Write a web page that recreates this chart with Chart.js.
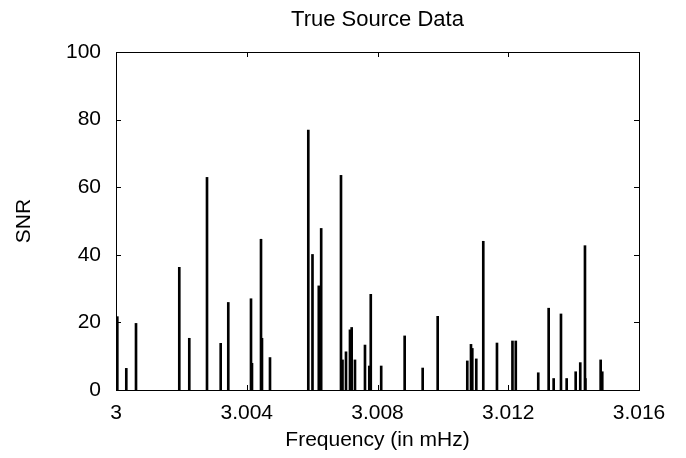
<!DOCTYPE html>
<html>
<head>
<meta charset="utf-8">
<script src="https://cdn.jsdelivr.net/npm/chart.js@4.4.1/dist/chart.umd.min.js"></script>
<style>
  html, body { margin: 0; padding: 0; background: #fff; }
  #wrap { width: 686px; height: 458px; }
</style>
</head>
<body>
<div id="wrap"><canvas id="grafico"></canvas></div>
<script>
// frequencias (mHz) e SNR
const frequencias = [
  3.00004, 3.000315, 3.000612, 3.001936, 3.002242, 3.002784, 3.003203, 3.003435,
  3.00413, 3.00416, 3.004436, 3.004466, 3.004711,
  3.005883, 3.006011, 3.006204, 3.006277,
  3.006883, 3.006929, 3.007036, 3.007158, 3.00721, 3.007311,
  3.007617, 3.007749, 3.007794, 3.008113, 3.008831, 3.009382, 3.009841,
  3.010747, 3.01086, 3.0109, 3.011022, 3.011236, 3.011655, 3.012129, 3.01223,
  3.012918, 3.013236, 3.013389, 3.013613, 3.013787, 3.014063, 3.014203,
  3.014347, 3.01436, 3.014827, 3.014876
];
const snr = [
  21.7, 6.4, 19.7, 36.3, 15.3, 62.9, 13.8, 25.9,
  27.0, 7.9, 44.6, 15.3, 9.6,
  76.9, 40.1, 30.8, 47.8,
  63.5, 8.9, 11.3, 17.8, 18.5, 8.9,
  13.3, 7.1, 28.3, 7.1, 16.0, 6.5, 21.8,
  8.6, 13.5, 12.3, 9.2, 44.0, 13.9, 14.5, 14.5,
  5.1, 24.2, 3.4, 22.5, 3.4, 5.4, 8.1,
  42.7, 3.4, 8.9, 5.4
];
const xTicks = [3, 3.004, 3.008, 3.012, 3.016];
const yTicks = [0, 20, 40, 60, 80, 100];

const fonte = "'Liberation Sans', Arial, sans-serif";

// borda e tiques para dentro, como no gnuplot
const bordaPlugin = {
  id: 'borda',
  afterDatasetsDraw(chart) {
    const { ctx, chartArea: a, scales } = chart;
    ctx.save();
    ctx.strokeStyle = '#000';
    ctx.lineWidth = 1;
    ctx.beginPath();
    xTicks.forEach(v => {
      const px = Math.round(scales.x.getPixelForValue(v)) + 0.5;
      ctx.moveTo(px, a.bottom); ctx.lineTo(px, a.bottom - 5);
      ctx.moveTo(px, a.top); ctx.lineTo(px, a.top + 5);
    });
    yTicks.forEach(v => {
      const py = Math.round(scales.y.getPixelForValue(v)) + 0.5;
      ctx.moveTo(a.left, py); ctx.lineTo(a.left + 5, py);
      ctx.moveTo(a.right, py); ctx.lineTo(a.right - 5, py);
    });
    ctx.stroke();
    ctx.strokeRect(Math.round(a.left) + 0.5, Math.round(a.top) + 0.5,
      Math.round(a.right - a.left), Math.round(a.bottom - a.top));
    ctx.restore();
  },
  afterDraw(chart) {
    const { ctx, chartArea: a } = chart;
    ctx.save();
    ctx.fillStyle = '#000';
    ctx.font = '22px ' + fonte;
    ctx.textAlign = 'center';
    ctx.textBaseline = 'middle';
    ctx.fillText('True Source Data', (a.left + a.right) / 2, 20);
    ctx.restore();
  }
};

new Chart(document.getElementById('grafico'), {
  type: 'bar',
  data: {
    datasets: [{
      label: 'SNR',
      data: frequencias.map((f, i) => ({ x: f, y: snr[i] })),
      backgroundColor: '#000',
      barThickness: 2,
      grouped: false
    }]
  },
  options: {
    responsive: true,
    maintainAspectRatio: false,
    animation: false,
    layout: { padding: { top: 52, right: 47, left: 0, bottom: 0 } },
    plugins: {
      legend: { display: false },
      tooltip: { enabled: false },
      title: { display: false }
    },
    scales: {
      x: {
        type: 'linear',
        min: 3,
        max: 3.016,
        offset: false,
        grid: { display: false, drawTicks: false },
        border: { display: false },
        afterBuildTicks: s => { s.ticks = xTicks.map(v => ({ value: v })); },
        afterFit: s => { s.height = 68; },
        ticks: {
          padding: 11,
          color: '#000',
          maxRotation: 0,
          font: { family: fonte, size: 21 },
          callback: v => String(Number(v.toFixed(3)))
        },
        title: {
          display: true,
          text: 'Frequency (in mHz)',
          color: '#000',
          font: { family: fonte, size: 21 },
          padding: { top: 0, bottom: 5 }
        }
      },
      y: {
        min: 0,
        max: 100,
        grid: { display: false, drawTicks: false },
        border: { display: false },
        afterBuildTicks: s => { s.ticks = yTicks.map(v => ({ value: v })); },
        afterFit: s => { s.width = 116; },
        ticks: {
          padding: 15,
          color: '#000',
          font: { family: fonte, size: 21 }
        },
        title: {
          display: true,
          text: 'SNR',
          color: '#000',
          font: { family: fonte, size: 21 },
          padding: { top: 12, bottom: 0 }
        }
      }
    }
  },
  plugins: [bordaPlugin]
});
</script>
</body>
</html>
